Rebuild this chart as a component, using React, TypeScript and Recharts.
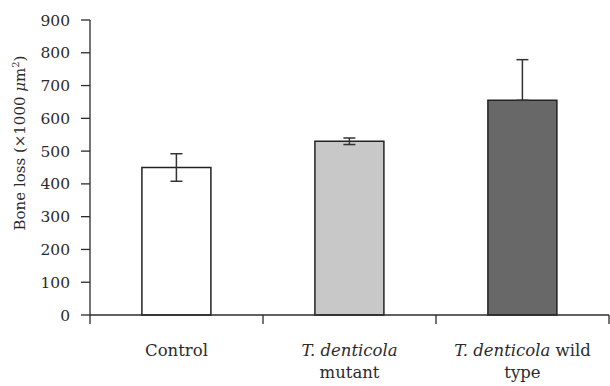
import React from 'react';
import { BarChart, Bar, XAxis, YAxis, Cell, ErrorBar } from 'recharts';

// bone loss per group (x1000 um^2)
const groups = ['Control', 'T. denticola mutant', 'T. denticola wild type'];
const boneLoss = [450, 530, 655];
const errLow = [42, 10, 0];
const errHigh = [42, 10, 124];
const yTicks = [0, 100, 200, 300, 400, 500, 600, 700, 800, 900];

// x labels: lines of [text, italic]
const labelLines: [string, boolean][][][] = [
  [[['Control', false]]],
  [[['T. denticola', true]], [['mutant', false]]],
  [[['T. denticola', true], [' wild', false]], [['type', false]]],
];

const fills = ['#ffffff', '#c8c8c8', '#686868'];

const W = 610;
const H = 386;
const Y_W = 90;
const X_H = 71;
const MARGIN = { top: 20, right: 1, left: 0, bottom: 0 };
const AXIS_Y = H - X_H - MARGIN.bottom;
const band = (W - MARGIN.left - MARGIN.right - Y_W) / groups.length;
const FONT = '"DejaVu Serif", "Liberation Serif", serif';
const INK = '#2b2b2b';

const data = groups.map((name, i) => ({
  name,
  value: boneLoss[i],
  err: [errLow[i], errHigh[i]],
}));

function XTick(props: any) {
  const { x, index } = props;
  const lines = labelLines[index] || [];
  const half = band / 2;
  return (
    <g>
      {index === 0 && (
        <line x1={x - half} x2={x - half} y1={AXIS_Y} y2={AXIS_Y + 9} stroke={INK} strokeWidth={1.3} />
      )}
      <line x1={x + half} x2={x + half} y1={AXIS_Y} y2={AXIS_Y + 9} stroke={INK} strokeWidth={1.3} />
      {lines.map((segs, li) => (
        <text
          key={li}
          x={x}
          y={AXIS_Y + 41 + li * 22}
          textAnchor="middle"
          fontFamily={FONT}
          fontSize={16.5}
          fill={INK}
        >
          {segs.map(([t, it], si) => (
            <tspan key={si} fontStyle={it ? 'italic' : 'normal'}>
              {t}
            </tspan>
          ))}
        </text>
      ))}
    </g>
  );
}

function renderYLabel() {
  return (
    <text
      x={25}
      y={143}
      transform="rotate(-90 25 143)"
      textAnchor="middle"
      fontFamily={FONT}
      fontSize={15}
      fill={INK}
    >
      Bone loss (×1000
      <tspan fontStyle="italic"> μ</tspan>m
      <tspan dy={-6} fontSize={10}>2</tspan>
      <tspan dy={6}>)</tspan>
    </text>
  );
}

export default function App() {
  return (
    <div style={{ position: 'absolute', left: 0, top: 0, width: W, height: H, background: '#fff' }}>
      <BarChart width={W} height={H} data={data} margin={MARGIN} barCategoryGap="30%">
        <XAxis
          dataKey="name"
          height={X_H}
          interval={0}
          tickLine={false}
          tickSize={0}
          tickMargin={0}
          axisLine={{ stroke: INK, strokeWidth: 1.3 }}
          tick={<XTick />}
        />
        <YAxis
          width={Y_W}
          domain={[0, 900]}
          ticks={yTicks}
          interval={0}
          tickSize={9}
          tickMargin={11}
          axisLine={{ stroke: INK, strokeWidth: 1.3 }}
          tickLine={{ stroke: INK, strokeWidth: 1.3 }}
          tick={{ fontFamily: FONT, fontSize: 15.5, fill: INK }}
          label={renderYLabel}
        />
        <Bar dataKey="value" stroke="#222" strokeWidth={1.5} isAnimationActive={false}>
          {data.map((d, i) => (
            <Cell key={d.name} fill={fills[i]} />
          ))}
          <ErrorBar dataKey="err" width={6} stroke="#333" strokeWidth={1.5} direction="y" />
        </Bar>
      </BarChart>
    </div>
  );
}
